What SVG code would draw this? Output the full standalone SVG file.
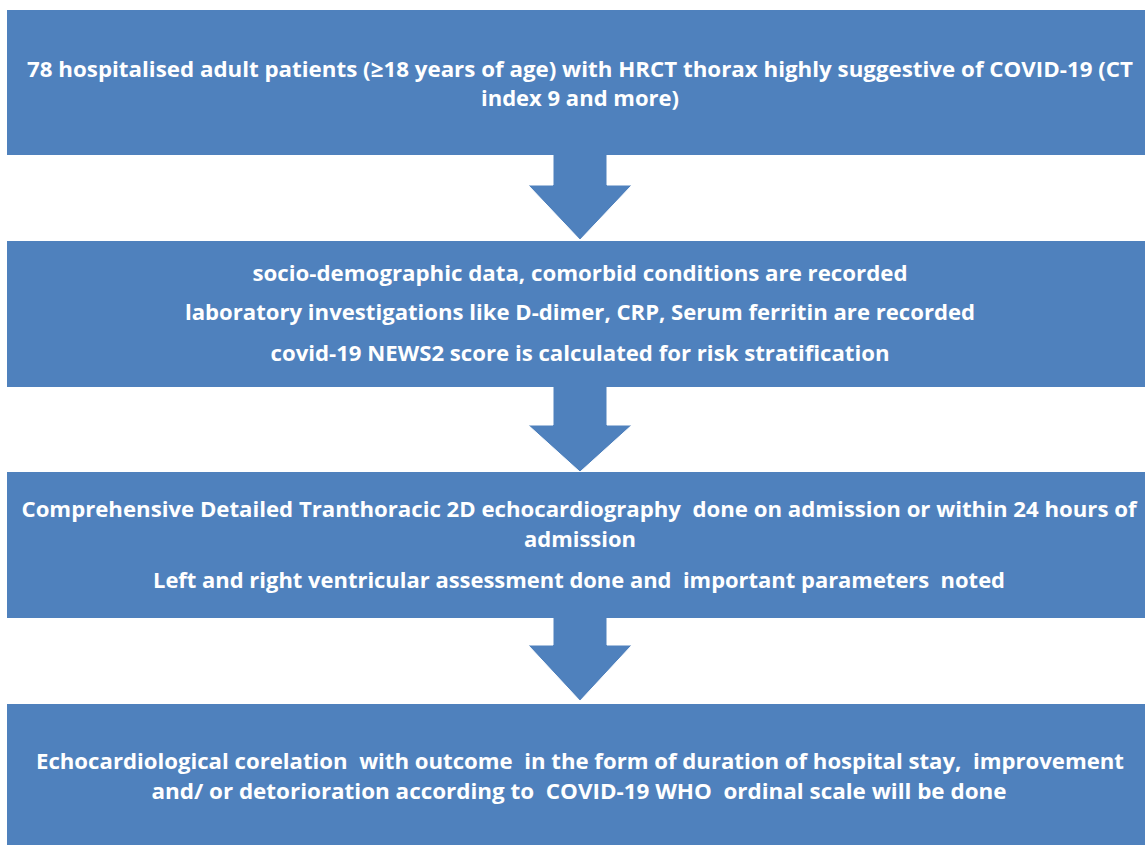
<svg xmlns="http://www.w3.org/2000/svg" width="1145" height="845" viewBox="0 0 1145 845">
<style>
.box{fill:#4F81BD;}
.arr{fill:#4F81BD;stroke:#FFFFFF;stroke-width:1;}
.t{font-family:"Open Sans","Liberation Sans",sans-serif;font-weight:700;font-size:22px;fill:#FFFFFF;text-anchor:middle;white-space:pre;}
</style>
<rect width="1145" height="845" fill="#FFFFFF"/>
<g id="connectors">
<path class="arr" d="M553,150 L607,150 L607,185 L632,185 L580,240 L528,185 L553,185 Z"/>
<path class="arr" d="M553,382 L607,382 L607,425 L632,425 L580,472 L528,425 L553,425 Z"/>
<path class="arr" d="M553,613 L607,613 L607,645 L632,645 L580,701 L528,645 L553,645 Z"/>
</g>
<g id="node1">
<rect class="box" x="7" y="10" width="1146" height="145"/>
<text class="t" x="580" y="77" textLength="1106" lengthAdjust="spacingAndGlyphs">78 hospitalised adult patients (≥18 years of age) with HRCT thorax highly suggestive of COVID-19 (CT</text>
<text class="t" x="580" y="106" textLength="198" lengthAdjust="spacingAndGlyphs">index 9 and more)</text>
</g>
<g id="node2">
<rect class="box" x="7" y="241" width="1146" height="146"/>
<text class="t" x="580" y="281" textLength="655" lengthAdjust="spacingAndGlyphs">socio-demographic data, comorbid conditions are recorded</text>
<text class="t" x="580" y="320" textLength="790" lengthAdjust="spacingAndGlyphs">laboratory investigations like D-dimer, CRP, Serum ferritin are recorded</text>
<text class="t" x="580" y="361" textLength="619" lengthAdjust="spacingAndGlyphs">covid-19 NEWS2 score is calculated for risk stratification</text>
</g>
<g id="node3">
<rect class="box" x="7" y="472" width="1146" height="146"/>
<text class="t" x="579" y="517" textLength="1115" lengthAdjust="spacingAndGlyphs">Comprehensive Detailed Tranthoracic 2D echocardiography  done on admission or within 24 hours of</text>
<text class="t" x="580" y="547" textLength="112" lengthAdjust="spacingAndGlyphs">admission</text>
<text class="t" x="579" y="588" textLength="852" lengthAdjust="spacingAndGlyphs">Left and right ventricular assessment done and  important parameters  noted</text>
</g>
<g id="node4">
<rect class="box" x="7" y="704" width="1146" height="150"/>
<text class="t" x="580" y="769" textLength="1088" lengthAdjust="spacingAndGlyphs">Echocardiological corelation  with outcome  in the form of duration of hospital stay,  improvement</text>
<text class="t" x="579" y="799" textLength="855" lengthAdjust="spacingAndGlyphs">and/ or detorioration according to  COVID-19 WHO  ordinal scale will be done</text>
</g>
</svg>
